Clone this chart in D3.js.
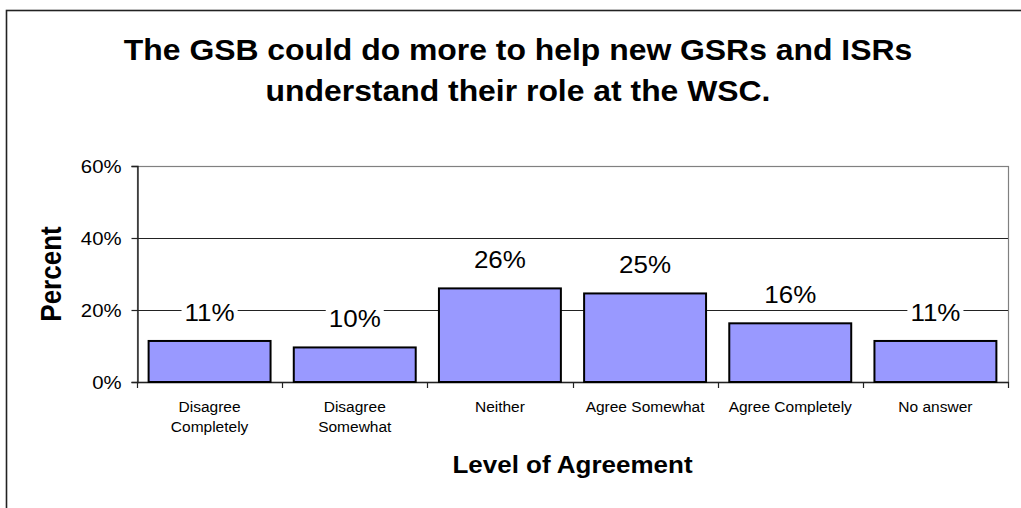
<!DOCTYPE html>
<html>
<head>
<meta charset="utf-8">
<script src="https://cdn.jsdelivr.net/npm/d3@7/dist/d3.min.js"></script>
<style>
  html, body { margin: 0; padding: 0; background: #fff; }
  svg { display: block; font-family: "Liberation Sans", Arial, sans-serif; }
</style>
</head>
<body>
<svg id="chart" width="1021" height="508"></svg>
<script>
// ---- data ----
const categories = [["Disagree", "Completely"], ["Disagree", "Somewhat"], ["Neither"], ["Agree Somewhat"], ["Agree Completely"], ["No answer"]];
const values = [0.114, 0.096, 0.260, 0.246, 0.163, 0.114];
const yTicks = [0, 0.2, 0.4, 0.6];
const titleLines = ["The GSB could do more to help new GSRs and ISRs", "understand their role at the WSC."];
const xTitle = "Level of Agreement";
const yTitle = "Percent";

// ---- layout ----
const W = 1021, H = 508;
const plot = { left: 137, right: 1008, top: 166, bottom: 382 };
const svg = d3.select("#chart");
const SX = 1.13; // horizontal stretch of the reference text

// outer frame (only top/left visible in the reference)
svg.append("rect").attr("x", 6.5).attr("y", 10.5).attr("width", 1100).attr("height", 600)
  .attr("fill", "#fff").attr("stroke", "#222").attr("stroke-width", 1.6);

const idx = d3.range(categories.length);
const x = d3.scaleBand().domain(idx).range([plot.left, plot.right]).paddingInner(0.16).paddingOuter(0.08);
const xStep = d3.scaleBand().domain(idx).range([plot.left, plot.right]).padding(0);
const y = d3.scaleLinear().domain([0, 0.6]).range([plot.bottom, plot.top]);
const pct = d3.format(".0%");

// plot area border (grey)
svg.append("rect").attr("x", plot.left + 0.5).attr("y", plot.top + 0.5)
  .attr("width", plot.right - plot.left).attr("height", plot.bottom - plot.top)
  .attr("fill", "#fff").attr("stroke", "#808080").attr("stroke-width", 1.2);

// gridlines
svg.append("g").selectAll("line").data(yTicks.filter(t => t > 0 && t < 0.6)).join("line")
  .attr("x1", plot.left).attr("x2", plot.right)
  .attr("y1", d => Math.round(y(d)) + 0.5).attr("y2", d => Math.round(y(d)) + 0.5)
  .attr("stroke", "#222").attr("stroke-width", 1);

// y axis
const yAxis = d3.axisLeft(y).tickValues(yTicks).tickFormat(d3.format(".0%")).tickSize(6).tickPadding(10);
const yg = svg.append("g").attr("transform", `translate(${plot.left + 0.5},0)`).call(yAxis);
yg.select(".domain").attr("stroke", "#222").attr("stroke-width", 1.4);
yg.selectAll(".tick line").attr("stroke", "#222").attr("stroke-width", 1.2);
yg.selectAll(".tick text").attr("font-size", 18).attr("fill", "#000")
  .attr("font-family", "Liberation Sans, Arial, sans-serif")
  .attr("x", null).attr("dy", null)
  .attr("transform", `translate(-16,6) scale(${SX},1)`)
  .attr("text-anchor", "end");

// x axis line and ticks at category boundaries
svg.append("line").attr("x1", plot.left).attr("x2", plot.right + 1)
  .attr("y1", plot.bottom + 0.5).attr("y2", plot.bottom + 0.5)
  .attr("stroke", "#222").attr("stroke-width", 1.4);
const bounds = idx.map(i => xStep(i)).concat([plot.right]);
svg.append("g").selectAll("line").data(bounds).join("line")
  .attr("x1", d => Math.round(d) + 0.5).attr("x2", d => Math.round(d) + 0.5)
  .attr("y1", plot.bottom).attr("y2", plot.bottom + 6)
  .attr("stroke", "#222").attr("stroke-width", 1.2);

// bars
svg.append("g").selectAll("rect").data(values).join("rect")
  .attr("x", (d, i) => x(i)).attr("width", x.bandwidth())
  .attr("y", d => y(d)).attr("height", d => plot.bottom - y(d))
  .attr("fill", "#9999FF").attr("stroke", "#000").attr("stroke-width", 2);

// data labels with white background
const lab = svg.append("g").selectAll("g").data(values).join("g")
  .attr("transform", (d, i) => `translate(${x(i) + x.bandwidth() / 2},${y(d) - 20})`);
lab.append("text").attr("text-anchor", "middle").attr("font-size", 23)
  .attr("transform", `scale(${SX},1)`).attr("fill", "#000")
  .text(d => pct(d));
lab.each(function () {
  const t = d3.select(this).select("text");
  const bb = t.node().getBBox();
  d3.select(this).insert("rect", "text")
    .attr("x", bb.x * SX - 3).attr("y", bb.y + 2)
    .attr("width", bb.width * SX + 6).attr("height", bb.height - 4)
    .attr("fill", "#fff");
});

// category labels
const cat = svg.append("g").selectAll("text").data(categories).join("text")
  .attr("text-anchor", "middle").attr("font-size", 15.5).attr("fill", "#000")
  .attr("transform", (d, i) => `translate(${x(i) + x.bandwidth() / 2},412)`);
cat.selectAll("tspan").data(d => d).join("tspan")
  .attr("x", 0).attr("y", (d, j) => j * 19.5).text(d => d);

// axis titles
svg.append("text").attr("text-anchor", "middle").attr("font-size", 23).attr("font-weight", "bold")
  .attr("transform", `translate(${(plot.left + plot.right) / 2},473) scale(${SX},1)`)
  .text(xTitle);
svg.append("text").attr("text-anchor", "middle").attr("font-size", 26).attr("font-weight", "bold")
  .attr("transform", `translate(61,${(plot.top + plot.bottom) / 2}) rotate(-90) scale(1,${SX})`)
  .text(yTitle);

// title
svg.append("g").selectAll("text").data(titleLines).join("text")
  .attr("text-anchor", "middle").attr("font-size", 29).attr("font-weight", "bold")
  .attr("transform", (d, i) => `translate(518,${59.5 + i * 41.5}) scale(1.1,1)`)
  .text(d => d);
</script>
</body>
</html>
